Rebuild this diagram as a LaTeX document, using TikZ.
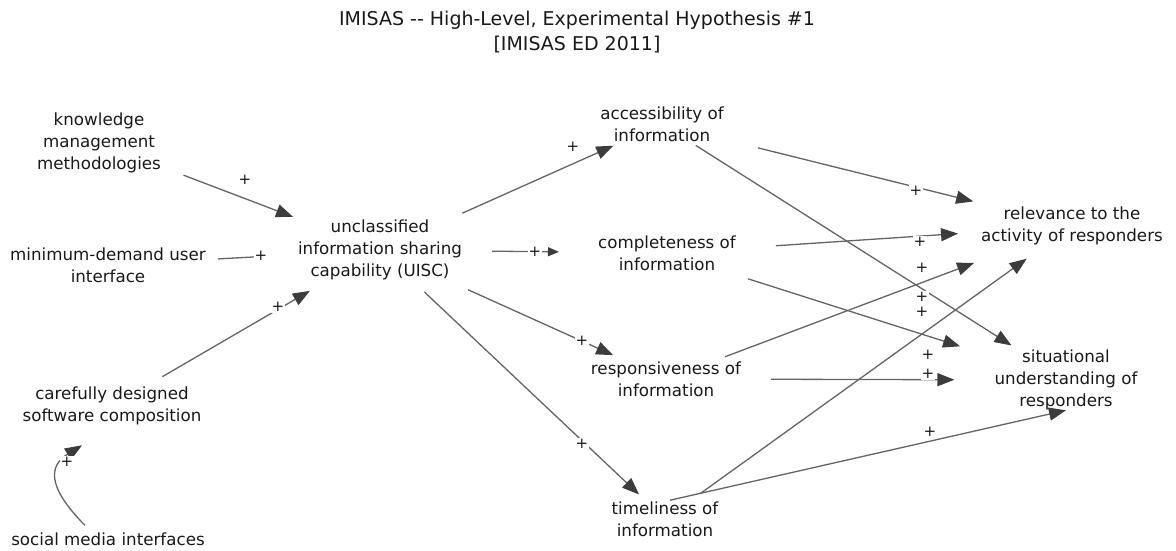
\documentclass[tikz,border=0pt]{standalone}
\usepackage{fontspec}
\setmainfont{DejaVu Sans}
\usetikzlibrary{arrows.meta}
\definecolor{linegray}{RGB}{100,100,100}
\definecolor{headgray}{RGB}{60,60,60}
\tikzset{
  var/.style={align=center, inner sep=0pt, text=black!90, font=\fontsize{16.7}{22}\selectfont},
  link/.style={draw=linegray, line width=1.3pt, -{Triangle[length=17pt,width=13pt,color=headgray,fill=headgray]}},
  smalllink/.style={link, -{Triangle[length=11pt,width=9pt,color=headgray,fill=headgray]}},
  sign/.style={fill=white, inner sep=1pt, text=black!90, font=\fontsize{15}{15}\selectfont},
}
\begin{document}
\begin{tikzpicture}[x=1pt, y=-1pt]
\useasboundingbox (0,0) rectangle (1176,550);
\node[var, font=\fontsize{19}{25}\selectfont] (title) at (577,32) {IMISAS -{}- High-Level, Experimental Hypothesis \#1\\{}[IMISAS ED 2011]};

% variables
\node[var] (kmm) at (99,143) {knowledge\\management\\methodologies};
\node[var] (mdui) at (108,265) {minimum-demand user\\interface};
\node[var] (cdsc) at (112,406) {carefully designed\\software composition};
\node[var] (smi) at (108,539) {social media interfaces};
\node[var] (uisc) at (380,250) {unclassified\\information sharing\\capability (UISC)};
\node[var] (acc) at (662,124) {accessibility of\\information};
\node[var] (comp) at (667,253) {completeness of\\information};
\node[var] (resp) at (666,379) {responsiveness of\\information};
\node[var] (time) at (665,519) {timeliness of\\information};
\node[var] (rel) at (1072,226) {relevance to the\\activity of responders};
\node[var] (sit) at (1066,380) {situational\\understanding of\\responders};

% links into UISC
\draw[link, shorten <=24pt, shorten >=8pt] (kmm) -- (uisc) node[sign] at (245,180) {+};
\draw[link, -, shorten <=12pt, shorten >=44pt] (mdui) -- (uisc) node[sign] at (261,256) {+};
\draw[link, shorten <=20pt, shorten >=21pt] (cdsc) -- (uisc) node[sign] at (278,307) {+};
\draw[link] ([xshift=-23pt,yshift=7pt]smi.north) .. controls (45,485) and (50,465) .. ([xshift=-30pt,yshift=-20pt]cdsc.south) node[sign] at (67,462) {+};

% links out of UISC
\draw[link, shorten <=16pt, shorten >=10pt] (uisc) -- (acc) node[sign] at (573,147) {+};
\draw[smalllink, shorten <=30pt, shorten >=39pt] (uisc) -- (comp) node[sign] at (535,252) {+};
\draw[link, shorten <=23pt, shorten >=15pt] (uisc) -- (resp) node[sign] at (582,341) {+};
\draw[link, shorten <=17pt, shorten >=10pt] (uisc) -- (time) node[sign] at (582,444) {+};

% links to the outcomes
\draw[link, shorten <=35pt, shorten >=22pt] (acc) -- (rel) node[sign] at (916,191) {+};
\draw[link, shorten <=7pt, shorten >=8pt] (acc) -- (sit) node[sign] at (922,297) {+};
\draw[link, shorten <=40pt, shorten >=23pt] (comp) -- (rel) node[sign] at (920,242) {+};
\draw[link, shorten <=27pt, shorten >=36pt] (comp) -- (sit) node[sign] at (922,312) {+};
\draw[link, shorten <=13pt, shorten >=50pt] (resp) -- (rel) node[sign] at (922,268) {+};
\draw[link, shorten <=30pt, shorten >=40pt] (resp) -- (sit) node[sign] at (928,374) {+};
\draw[link, shorten <=13pt, shorten >=23pt] (time) -- (rel) node[sign] at (928,355) {+};
\draw[link, shorten <=5pt] (time.north) -- (sit.south) node[sign] at (930,432) {+};
\end{tikzpicture}
\end{document}
